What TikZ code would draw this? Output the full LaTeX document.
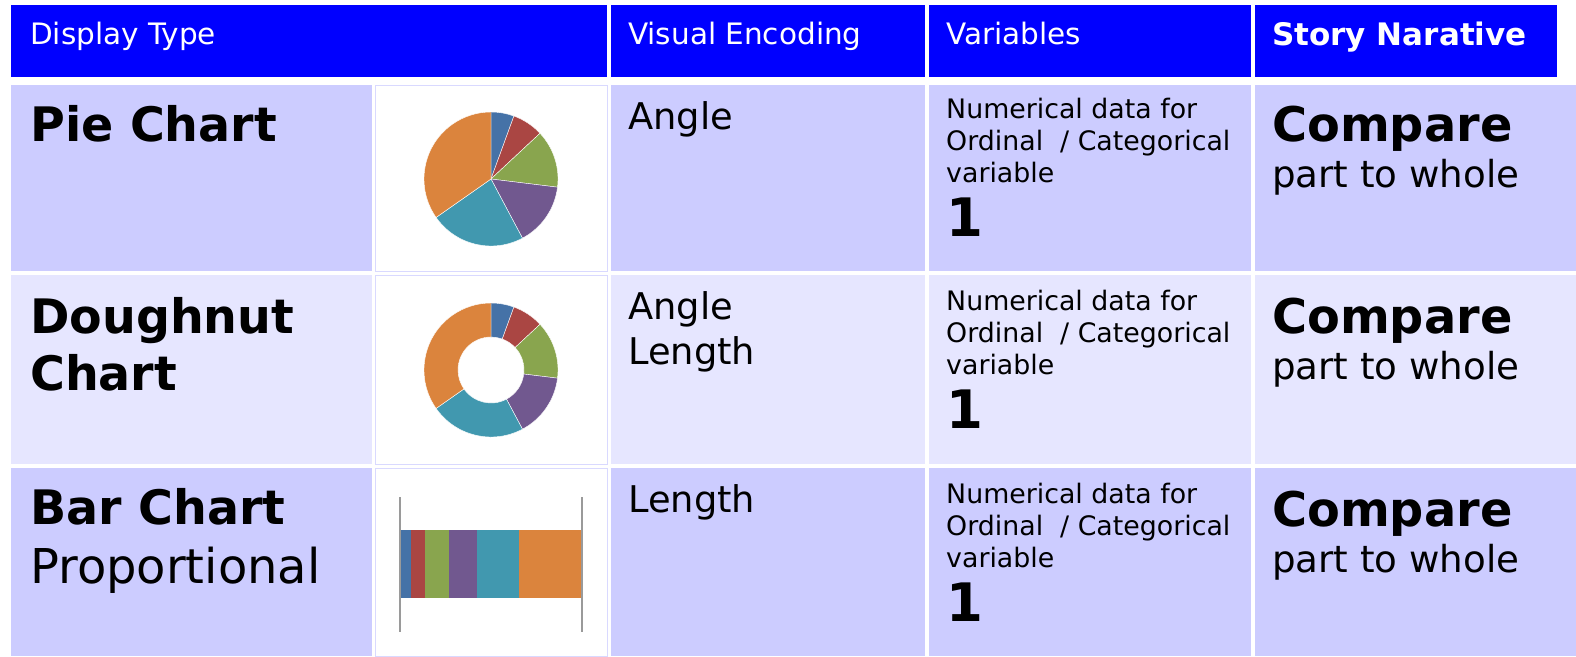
\documentclass[tikz,border=0pt]{standalone}
\usepackage{fontspec}
\setmainfont{DejaVu Sans}
\usepackage{tikz}
\usetikzlibrary{positioning}
\definecolor{hdrblue}{HTML}{0000FF}
\definecolor{rowdark}{HTML}{CCCCFF}
\definecolor{rowlight}{HTML}{E6E6FF}
\definecolor{cellline}{HTML}{D9D9FF}
\definecolor{xlblue}{HTML}{4572A7}
\definecolor{xlred}{HTML}{AA4643}
\definecolor{xlgreen}{HTML}{89A54E}
\definecolor{xlpurple}{HTML}{71588F}
\definecolor{xlteal}{HTML}{4198AF}
\definecolor{xlorange}{HTML}{DB843D}
\definecolor{axisgray}{HTML}{9A9A9A}

\begin{document}
\begin{tikzpicture}
    [x=1pt, y=1pt,
     hdrtxt/.style={anchor=base west, inner sep=0pt, text=white, font=\fontsize{29.5}{35}\selectfont},
     hdrbold/.style={hdrtxt, font=\fontsize{31}{37}\selectfont\bfseries},
     typebig/.style={anchor=base west, inner sep=0pt, font=\fontsize{47.5}{56}\selectfont\bfseries},
     typereg/.style={anchor=base west, inner sep=0pt, font=\fontsize{48}{56}\selectfont},
     enctxt/.style={anchor=base west, inner sep=0pt, font=\fontsize{36.8}{44}\selectfont},
     vartxt/.style={anchor=base west, inner sep=0pt, font=\fontsize{26.8}{32}\selectfont},
     varnum/.style={anchor=base west, inner sep=0pt, font=\fontsize{53}{60}\selectfont\bfseries},
     storybig/.style={anchor=base west, inner sep=0pt, font=\fontsize{47.8}{56}\selectfont\bfseries},
     storytxt/.style={anchor=base west, inner sep=0pt, font=\fontsize{37.2}{44}\selectfont},
     imgcell/.style={fill=white, draw=cellline, line width=1pt},
     slice/.style={draw=white, line width=0.4pt}]

    \useasboundingbox (0,0) rectangle (1576,-656);

    % header row
    \fill [hdrblue] (11,-5) rectangle (607,-77);
    \fill [hdrblue] (611,-5) rectangle (925,-77);
    \fill [hdrblue] (929,-5) rectangle (1251,-77);
    \fill [hdrblue] (1255,-5) rectangle (1557,-77);
    \node [hdrtxt] (hdisp) at (30,-44) {Display Type};
    \node [hdrtxt] (henc) at (628,-44) {Visual Encoding};
    \node [hdrtxt] (hvar) at (946,-44) {Variables};
    \node [hdrbold] (hstory) at (1272,-45) {Story Narative};

    % body rows
    \foreach \t/\b/\c in {85/271/rowdark, 275/464/rowlight, 468/656/rowdark} {
        \fill [\c] (11,-\t) rectangle (372,-\b);
        \filldraw [imgcell] (375.5,-\t) rectangle (607,-\b);
        \fill [\c] (611,-\t) rectangle (925,-\b);
        \fill [\c] (929,-\t) rectangle (1251,-\b);
        \fill [\c] (1255,-\t) rectangle (1576,-\b);
    }

    % pie
    \coordinate (pie) at (491,-179);
    \foreach \a/\e/\c in {90/70/xlblue, 70/43/xlred, 43/-7/xlgreen, -7/-62/xlpurple, -62/-145/xlteal, -145/-270/xlorange}
        \filldraw [slice, fill=\c, shift={(pie)}] (0,0) -- (\a:67) arc [start angle=\a, end angle=\e, radius=67] -- cycle;

    % doughnut
    \coordinate (dnut) at (491,-370);
    \foreach \a/\e/\c in {90/70/xlblue, 70/43/xlred, 43/-7/xlgreen, -7/-62/xlpurple, -62/-145/xlteal, -145/-270/xlorange}
        \filldraw [slice, fill=\c, shift={(dnut)}] (\a:67) arc [start angle=\a, end angle=\e, radius=67]
            -- (\e:33) arc [start angle=\e, end angle=\a, radius=33] -- cycle;

    % proportional bar
    \foreach \l/\r/\c in {400/411/xlblue, 411/425/xlred, 425/449/xlgreen, 449/477/xlpurple, 477/519/xlteal, 519/582/xlorange}
        \fill [\c] (\l,-530) rectangle (\r,-598);
    \draw [axisgray, line width=2pt] (400,-497) -- (400,-632);
    \draw [axisgray, line width=2pt] (582,-497) -- (582,-632);

    % display types
    \node [typebig] (pietype) at (30,-141) {Pie Chart};
    \node [typebig] (dnuttype) at (30,-333) {Doughnut};
    \node [typebig] (dnuttypeb) at (30,-390) {Chart};
    \node [typebig] (bartype) at (30,-524) {Bar Chart};
    \node [typereg] (bartypeb) at (30,-583) {Proportional};

    % visual encoding
    \node [enctxt] (pieenc) at (628,-129) {Angle};
    \node [enctxt] (dnutenc) at (628,-319) {Angle};
    \node [enctxt] (dnutencb) at (628,-364) {Length};
    \node [enctxt] (barenc) at (628,-512) {Length};

    % variables and story
    \foreach \r/\y in {1/0, 2/192, 3/385} {
        \node [vartxt] (var\r a) at (946,-118-\y) {Numerical data for};
        \node [vartxt] (var\r b) at (946,-150-\y) {Ordinal\ \ / Categorical};
        \node [vartxt] (var\r c) at (946,-182-\y) {variable};
        \node [varnum] (var\r n) at (946,-236-\y) {1};
        \node [storybig] (story\r a) at (1272,-141-\y) {Compare};
        \node [storytxt] (story\r b) at (1272,-187-\y) {part to whole};
    }
\end{tikzpicture}
\end{document}
